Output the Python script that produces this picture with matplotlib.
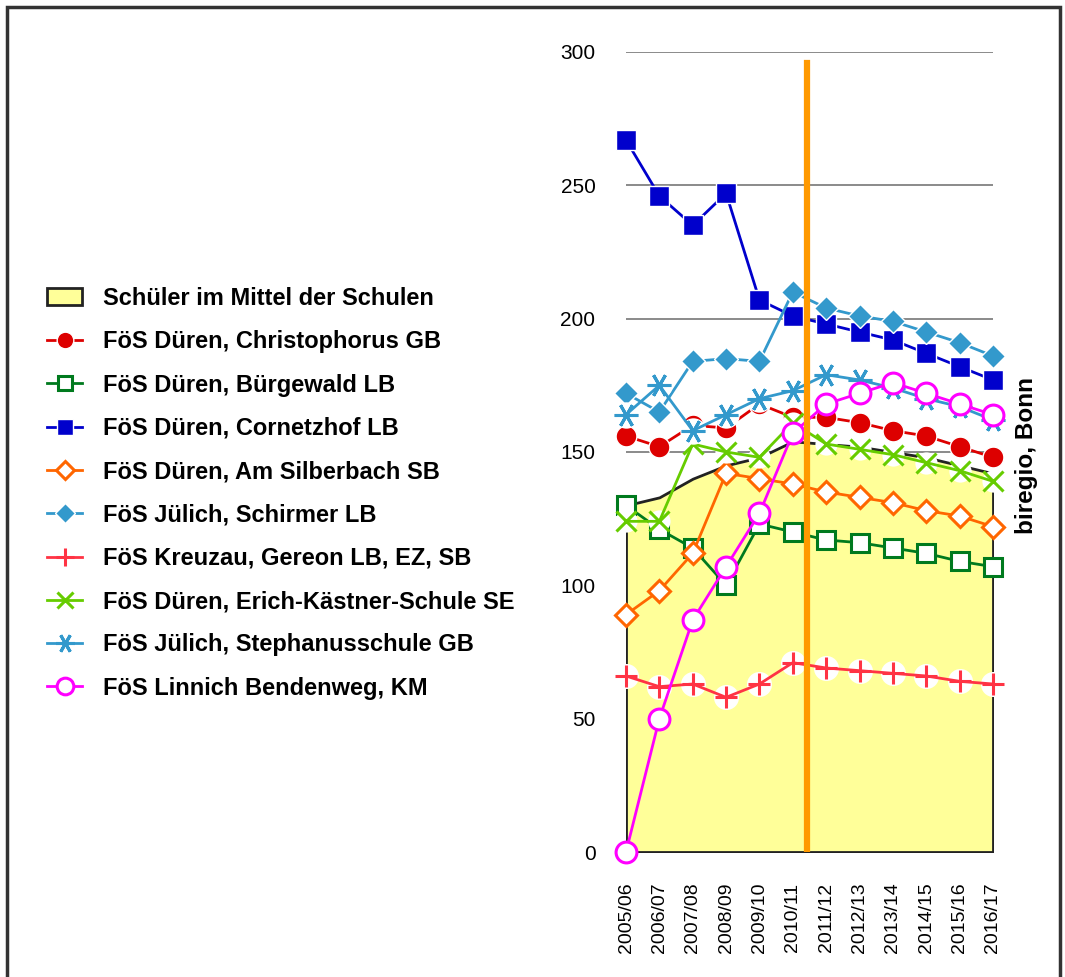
import matplotlib
matplotlib.use("Agg")
import matplotlib.pyplot as plt
from matplotlib.patches import Rectangle, Patch
from matplotlib.lines import Line2D

plt.rcParams['font.family'] = ['Liberation Sans', 'DejaVu Sans']

years = ['2005/06', '2006/07', '2007/08', '2008/09', '2009/10', '2010/11',
         '2011/12', '2012/13', '2013/14', '2014/15', '2015/16', '2016/17']

mittel = [130, 133, 140, 145, 148, 154, 153, 152, 150, 148, 145, 142]
christophorus = [156, 152, 160, 159, 168, 163, 163, 161, 158, 156, 152, 148]
buergewald = [130, 121, 114, 100, 123, 120, 117, 116, 114, 112, 109, 107]
cornetzhof = [267, 246, 235, 247, 207, 201, 198, 195, 192, 187, 182, 177]
silberbach = [89, 98, 112, 142, 140, 138, 135, 133, 131, 128, 126, 122]
schirmer = [172, 165, 184, 185, 184, 210, 204, 201, 199, 195, 191, 186]
gereon = [66, 62, 63, 58, 63, 71, 69, 68, 67, 66, 64, 63]
kaestner = [124, 124, 153, 150, 148, 161, 153, 151, 149, 146, 143, 139]
stephanus = [164, 175, 158, 164, 170, 173, 179, 177, 174, 170, 167, 162]
linnich = [0, 50, 87, 107, 127, 157, 168, 172, 176, 172, 168, 164]

x = list(range(len(years)))

fig = plt.figure(figsize=(10.65, 9.77), dpi=100)
ax = fig.add_axes([626 / 1065, 1 - 852 / 977, 367 / 1065, 800 / 977])

# gridlines behind everything
for yv in [150, 200, 250, 300]:
    ax.axhline(yv, color='#777777', lw=1.2, zorder=0)

ax.fill_between(x, 0, mittel, facecolor='#FFFF99', edgecolor='#222222',
                linewidth=2, zorder=1)

series = [
    # label, data, color, marker, filled, size
    ('FöS Düren, Christophorus GB', christophorus, '#DD0000', 'o', True, 15),
    ('FöS Düren, Bürgewald LB', buergewald, '#007A1E', 's', False, 13),
    ('FöS Düren, Cornetzhof LB', cornetzhof, '#0000CC', 's', True, 15),
    ('FöS Düren, Am Silberbach SB', silberbach, '#FF6600', 'D', False, 11),
    ('FöS Jülich, Schirmer LB', schirmer, '#3399CC', 'D', True, 12.5),
    ('FöS Kreuzau, Gereon LB, EZ, SB', gereon, '#FF3344', '+', None, 16),
    ('FöS Düren, Erich-Kästner-Schule SE', kaestner, '#66CC00', 'x', None, 14),
    ('FöS Jülich, Stephanusschule GB', stephanus, '#3399CC', (6, 2, 90), None, 17),
    ('FöS Linnich Bendenweg, KM', linnich, '#FF00FF', 'o', False, 15),
]

handles = [Patch(facecolor='#FFFF99', edgecolor='#222222', linewidth=2,
                 label='Schüler im Mittel der Schulen')]

for i, (lab, vals, col, mk, filled, ms) in enumerate(series):
    z = 3 + i
    if filled is True:
        kw = dict(mfc=col, mec='white', mew=1)
    elif filled is False:
        kw = dict(mfc='white', mec=col, mew=2.2)
    else:
        # white halo behind line-only markers
        ax.plot(x, vals, ls='none', marker='o', ms=ms + 2, mfc='white',
                mec='none', zorder=z, clip_on=False)
        kw = dict(mec=col, mew=2.2)
    ax.plot(x, vals, color=col, lw=2, marker=mk, ms=ms, zorder=z,
            clip_on=False, **kw)
    handles.append(Line2D([], [], color=col, lw=2, marker=mk, ms=ms * 0.8,
                          label=lab, **kw))

ax.axvline(5.42, ymin=0, ymax=296 / 300, color='#FF9900', lw=4.5, zorder=20)

ax.set_xlim(0, 11)
ax.set_ylim(0, 300)
ax.set_yticks([0, 50, 100, 150, 200, 250, 300])
ax.set_xticks(x)
ax.set_xticklabels(years, rotation=90, fontsize=14)
ax.tick_params(axis='y', length=0, pad=22, labelsize=15)
ax.tick_params(axis='x', length=0, pad=22)
for s in ax.spines.values():
    s.set_visible(False)
ax.patch.set_alpha(0)

fig.legend(handles=handles, loc='upper left',
           bbox_to_anchor=(47 / 1065, 1 - 287 / 977), frameon=False,
           prop={'weight': 'bold', 'size': 17}, labelspacing=0.86,
           handlelength=1.5, handletextpad=0.88, borderaxespad=0,
           borderpad=0)

fig.text(1026 / 1065, 1 - 455 / 977, 'biregio, Bonn', rotation=90,
         fontsize=17.5, fontweight='bold', ha='center', va='center')

fig.patches.append(Rectangle((7 / 1065, -0.02), 1053 / 1065, 0.02 + 1 - 7 / 977,
                             transform=fig.transFigure, fill=False,
                             edgecolor='#333333', lw=2.5))

fig.savefig('out.png', dpi=100)
